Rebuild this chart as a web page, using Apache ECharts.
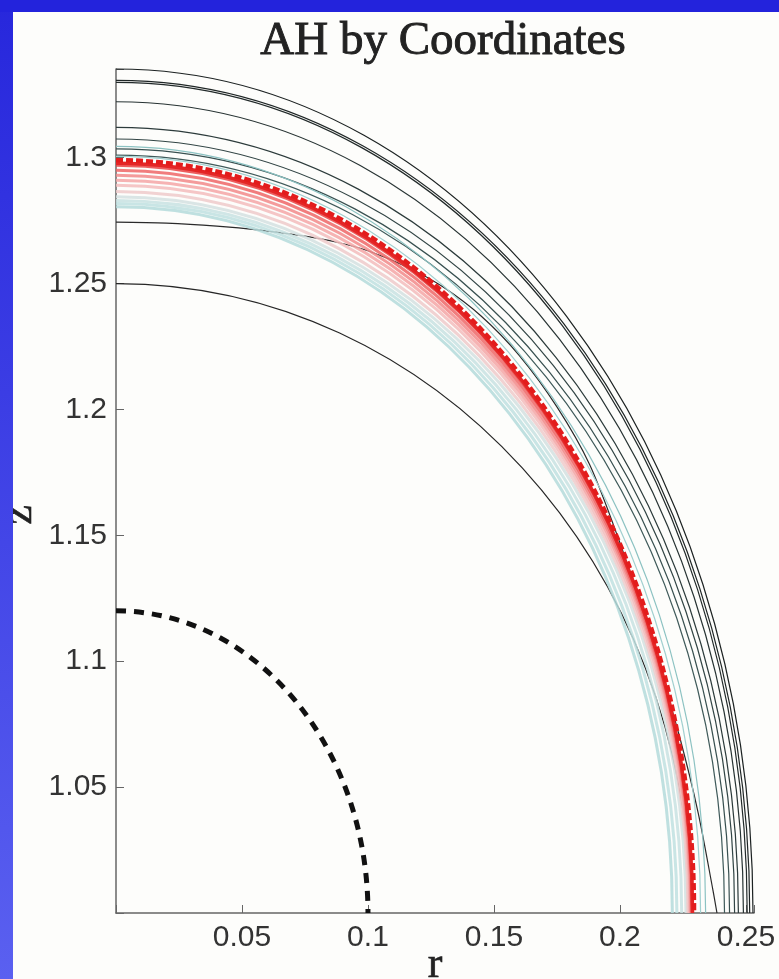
<!DOCTYPE html>
<html>
<head>
<meta charset="utf-8">
<script src="https://cdn.jsdelivr.net/npm/echarts@6/dist/echarts.min.js"></script>
<style>
html,body{margin:0;padding:0;}
body{width:779px;height:979px;position:relative;overflow:hidden;background:linear-gradient(180deg,#2727dc 0%,#3b3de4 40%,#5a60f0 100%);}
#top{position:absolute;left:0;top:0;width:779px;height:12px;background:#2323dc;}
#chart{position:absolute;left:13px;top:12px;width:766px;height:967px;background:#fdfdfb;}
</style>
</head>
<body>
<div id="top"></div>
<div id="chart"></div>
<script>
// tick labels
const xTicks = [0.05, 0.1, 0.15, 0.2, 0.25];
const yTicks = [1.05, 1.1, 1.15, 1.2, 1.25, 1.3];

// every shape is read as: height on the axis (z at r = 0) and radius where it meets z = 1
const baseZ = 1.0;
const blackTopZ  = [1.3352, 1.3307, 1.3299, 1.3222, 1.3120, 1.3074, 1.3035, 1.3010, 1.2500];
const blackEdgeR = [0.2528, 0.2515, 0.2505, 0.2490, 0.2470, 0.2455, 0.2435, 0.2415, 0.2280];
const tealTopZ   = [1.3045, 1.3005];
const tealEdgeR  = [0.2340, 0.2320];
const cyanTopZ   = [1.2845, 1.2830, 1.2818, 1.2805];
const cyanEdgeR  = [0.2262, 0.2245, 0.2226, 0.2208];
const pinkTopZ   = [1.2865, 1.2890, 1.2910, 1.2930, 1.2950, 1.2970];
const pinkEdgeR  = [0.2270, 0.2275, 0.2279, 0.2282, 0.2285, 0.2288];
const redTopZ    = [1.2978, 1.2990];
const redEdgeR   = [0.2288, 0.2294];
const startTopZ  = [1.12];
const startEdgeR = [0.10];
// one shape that is flatter on top and leaves the band near the bottom
const crossR = [0, 0.02, 0.04, 0.057, 0.075, 0.0877, 0.10, 0.1167, 0.13, 0.145, 0.16, 0.175, 0.188, 0.20, 0.208, 0.215, 0.2238, 0.231, 0.2369, 0.2385];
const crossZ = [1.2744, 1.2740, 1.2728, 1.2712, 1.2688, 1.2664, 1.2630, 1.2560, 1.2485, 1.2370, 1.2215, 1.2010, 1.1780, 1.1470, 1.1230, 1.1000, 1.0695, 1.0400, 1.0091, 1.0];

const blackColors = ['#1c2222','#1f2626','#222a2a','#273333','#2c3b3b','#324545','#385050','#3f5a5a','#262626'];
const tealColors  = ['#8cc2c2','#a2d0d0'];
const cyanColors  = ['#d4e0e0','#c8e2e2','#bfe0e0','#b4dada'];
const pinkColors  = ['#efcaca','#f3bcbc','#f4a6a6','#f28a8a','#ee6666','#e94242'];

const chart = echarts.init(document.getElementById('chart'), null, {renderer:'canvas'});

function quarterSeries(rArr, zArr, colors, width, z, dash, opacity) {
  return {
    type:'custom', coordinateSystem:'cartesian2d', silent:true, z:z, clip:false,
    data: rArr.map(function(r, i){ return [r, zArr[i], i]; }),
    encode:{x:0, y:1},
    renderItem:function(params, api){
      const edge = api.coord([api.value(0), baseZ]);
      const top = api.coord([0, api.value(1)]);
      const cx = top[0], cy = edge[1];
      const rx = edge[0] - cx, ry = cy - top[1];
      const k = 0.5523;
      const c = Array.isArray(colors) ? colors[api.value(2)] : colors;
      return {
        type:'bezierCurve',
        shape:{x1:top[0], y1:top[1], cpx1:cx + k*rx, cpy1:top[1], cpx2:edge[0], cpy2:cy - k*ry, x2:edge[0], y2:edge[1]},
        style:{stroke:c, fill:'none', lineWidth:width, lineDash:dash || null, opacity:opacity == null ? 1 : opacity, lineCap:'butt'}
      };
    }
  };
}

const series = [
  quarterSeries(blackEdgeR, blackTopZ, blackColors, 1.2, 2),
  {
    type:'line', data: crossR.map(function(r, i){ return [r, crossZ[i]]; }),
    smooth:0.3, showSymbol:false, silent:true, z:2,
    lineStyle:{color:'#2a2a2a', width:1.2}
  },
  quarterSeries(tealEdgeR, tealTopZ, tealColors, 1.2, 3),
  quarterSeries(cyanEdgeR, cyanTopZ, cyanColors, 3, 4, null, 0.85),
  quarterSeries(pinkEdgeR, pinkTopZ, pinkColors, 3, 5, null, 0.85),
  quarterSeries([redEdgeR[0]], [redTopZ[0]], '#e42626', 3.5, 6),
  quarterSeries([redEdgeR[1]], [redTopZ[1]], '#e31c1c', 4.5, 7, [7, 3]),
  quarterSeries(startEdgeR, startTopZ, '#111111', 5, 7, [10, 8])
];

chart.setOption({
  animation:false,
  backgroundColor:'#fdfdfb',
  title:{
    text:'AH by Coordinates', left:425, top:1, textAlign:'center',
    textStyle:{fontFamily:'Liberation Serif', fontSize:47, fontWeight:'normal', color:'#222',
      textBorderColor:'#222', textBorderWidth:0.9}
  },
  grid:{left:103, top:57, right:25, bottom:66, outerBoundsMode:'none', containLabel:false},
  xAxis:{
    type:'value', min:0, max:0.2532, interval:0.05,
    name:'r', nameLocation:'middle', nameGap:30, nameMoveOverlap:false,
    nameTextStyle:{fontFamily:'Liberation Serif', fontSize:44, color:'#222', textBorderColor:'#222', textBorderWidth:0.6},
    axisLine:{show:true, lineStyle:{color:'#666', width:1.5}},
    axisTick:{show:true, inside:true, length:8, lineStyle:{color:'#666'}},
    axisLabel:{fontFamily:'Liberation Sans', fontSize:30, color:'#333', margin:10,
      formatter:function(v){ return xTicks.some(function(t){return Math.abs(t-v)<1e-9;}) ? String(v) : ''; }},
    splitLine:{show:false}
  },
  yAxis:{
    type:'value', min:1.0, max:1.3352, interval:0.05,
    name:'z', nameLocation:'middle', nameGap:75, nameRotate:90, nameMoveOverlap:false,
    nameTextStyle:{fontFamily:'Liberation Serif', fontSize:44, color:'#222', padding:[0,48,0,0], textBorderColor:'#222', textBorderWidth:0.6},
    axisLine:{show:true, lineStyle:{color:'#666', width:1.5}},
    axisTick:{show:true, inside:true, length:8, lineStyle:{color:'#666'}},
    axisLabel:{fontFamily:'Liberation Sans', fontSize:30, color:'#333', margin:9,
      formatter:function(v){ return yTicks.some(function(t){return Math.abs(t-v)<1e-9;}) ? String(v) : ''; }},
    splitLine:{show:false}
  },
  series:series
});
</script>
</body>
</html>
